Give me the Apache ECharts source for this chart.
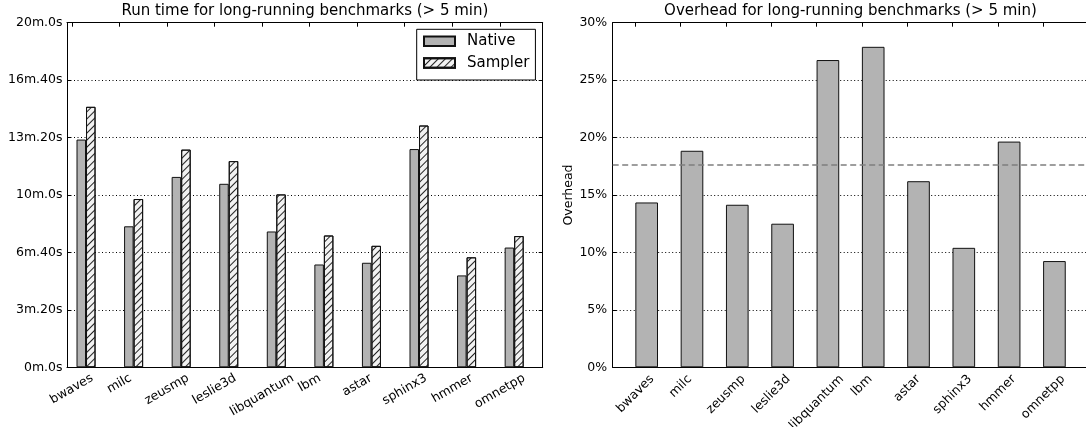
<!DOCTYPE html>
<html><head><meta charset="utf-8">
<script src="https://cdn.jsdelivr.net/npm/echarts@6/dist/echarts.min.js"></script>
<style>html,body{margin:0;padding:0;background:#fff}#c{width:1086px;height:427px}</style>
</head><body><div id="c"></div>
<script>
// ---- data ----
const benchmarks = ['bwaves','milc','zeusmp','leslie3d','libquantum','lbm','astar','sphinx3','hmmer','omnetpp'];
const nativeSeconds  = [793, 491, 663, 639, 473, 358, 364, 760, 320, 417];
const samplerSeconds = [907, 586, 758, 718, 602, 459, 423, 842, 383, 457];
const overheadPct    = [14.35, 18.85, 14.15, 12.5, 26.75, 27.9, 16.2, 10.4, 19.65, 9.25];
const meanOverheadPct = 17.6;
const runTimeTickSeconds = [0, 200, 400, 600, 800, 1000, 1200];
const overheadTicks = [0, 5, 10, 15, 20, 25, 30];

// ---- style ----
const FONT = '"DejaVu Sans", sans-serif';
const FS = 12.5;
const idx = benchmarks.map((_, i) => i);

const ctx = document.createElement('canvas').getContext('2d');
function textW(t, fs) { ctx.font = fs + 'px "DejaVu Sans"'; return ctx.measureText(t).width; }

// emulate rotated labels centred on the tick with a fixed bounding-box top
function richFor(deg, fs) {
  const th = deg * Math.PI / 180, H = fs * 1.1, rich = {};
  benchmarks.forEach((b, i) => {
    const L = textW(b, fs);
    const h = L * Math.sin(th) + H * Math.cos(th);
    const dy = h / 2;
    rich['r' + i] = { fontSize: fs, fontFamily: FONT, color: '#000',
      padding: [2 * dy * Math.cos(th), 2 * dy * Math.sin(th), 0, 0] };
  });
  return rich;
}
function fmtTime(v) { return Math.floor(v / 60) + 'm.' + (v % 60) + 's'; }

const gridL = { left: 67, top: 22.7, width: 475.7, height: 344.6, outerBoundsMode: 'none', containLabel: false };
const gridR = { left: 612.7, top: 22.7, right: 0, height: 344.6, outerBoundsMode: 'none', containLabel: false };
const unitL = 475.7 / 10, unitR = 475.7 / 10.5;
const xMaxR = -0.5 + (1086 - 612.7) / unitR;

const axisLineBlack = { show: true, onZero: false, lineStyle: { color: '#000', width: 1 } };
const gridLine = { show: true, lineStyle: { color: '#000', type: [1, 2.5], width: 1 } };

function xBottom(gi, min, max, deg, margin) {
  return { type: 'value', gridIndex: gi, position: 'bottom', min, max,
    axisLine: axisLineBlack, axisTick: { show: false }, splitLine: { show: false },
    axisLabel: { customValues: idx, rotate: deg, align: 'center', verticalAlign: 'middle', margin,
      formatter: v => '{r' + Math.round(v) + '|' + benchmarks[Math.round(v)] + '}',
      rich: richFor(deg, FS), fontSize: FS, fontFamily: FONT, color: '#000' } };
}
function xTop(gi, min, max) {
  return { type: 'value', gridIndex: gi, position: 'top', min, max,
    axisLine: axisLineBlack, axisTick: { show: true, inside: true, length: 4, customValues: idx, lineStyle: { color: '#000' } },
    axisLabel: { show: false, customValues: idx }, splitLine: { show: false } };
}

const option = {
  animation: false,
  backgroundColor: '#fff',
  textStyle: { fontFamily: FONT },
  title: [
    { text: 'Run time for long-running benchmarks (> 5 min)', left: 304.9, top: 4, textAlign: 'center', padding: 0,
      textStyle: { fontSize: 15, fontWeight: 'normal', color: '#000', fontFamily: FONT } },
    { text: 'Overhead for long-running benchmarks (> 5 min)', left: 850.5, top: 4, textAlign: 'center', padding: 0,
      textStyle: { fontSize: 15, fontWeight: 'normal', color: '#000', fontFamily: FONT } }
  ],
  legend: {
    data: ['Native', 'Sampler'], orient: 'vertical', left: 416.7, top: 29.3,
    padding: [4.5, 6, 9.5, 6.3], itemGap: 6.7, itemWidth: 31, itemHeight: 9.5, icon: 'rect',
    backgroundColor: '#fff', borderColor: '#000', borderWidth: 1, borderRadius: 0,
    textStyle: { fontSize: 15, color: '#000', fontFamily: FONT, padding: [0, 0, 0, 7] }
  },
  grid: [gridL, gridR],
  xAxis: [
    xBottom(0, -0.1, 9.9, 30, 4),
    xTop(0, -0.1, 9.9),
    xBottom(1, -0.5, xMaxR, 45, 5),
    xTop(1, -0.5, xMaxR)
  ],
  yAxis: [
    { type: 'value', gridIndex: 0, min: 0, max: 1200, interval: 200, position: 'left',
      axisLine: axisLineBlack, axisTick: { show: true, inside: true, length: 4, lineStyle: { color: '#000' } },
      axisLabel: { formatter: fmtTime, fontSize: FS, fontFamily: FONT, color: '#000', margin: 4.5 },
      splitLine: gridLine },
    { type: 'value', gridIndex: 0, min: 0, max: 1200, interval: 200, position: 'right',
      axisLine: axisLineBlack, axisTick: { show: true, inside: true, length: 4, lineStyle: { color: '#000' } },
      axisLabel: { show: false }, splitLine: { show: false } },
    { type: 'value', gridIndex: 1, min: 0, max: 30, interval: 5, position: 'left',
      name: 'Overhead', nameLocation: 'middle', nameGap: 26,
      nameTextStyle: { fontSize: FS, fontFamily: FONT, color: '#000' },
      axisLine: axisLineBlack, axisTick: { show: true, inside: true, length: 4, lineStyle: { color: '#000' } },
      axisLabel: { formatter: v => v + '%', fontSize: FS, fontFamily: FONT, color: '#000', margin: 5.5 },
      splitLine: gridLine }
  ],
  series: [
    { name: 'Native', type: 'bar', xAxisIndex: 0, yAxisIndex: 0, barWidth: 0.2 * unitL, barGap: '-100%',
      data: idx.map(i => [i + 0.2, nativeSeconds[i]]),
      itemStyle: { color: '#b3b3b3', borderColor: '#111', borderWidth: 1 } },
    { name: 'Sampler', type: 'bar', xAxisIndex: 0, yAxisIndex: 0, barWidth: 0.2 * unitL, barGap: '-100%',
      data: idx.map(i => [i + 0.4, samplerSeconds[i]]),
      itemStyle: { color: '#f2f2f2', borderColor: '#111', borderWidth: 1,
        decal: { symbol: 'rect', symbolSize: 1, dashArrayX: [1, 0], dashArrayY: [1, 3.2], rotation: -Math.PI / 4, color: '#222' } } },
    { name: 'Overhead', type: 'bar', xAxisIndex: 2, yAxisIndex: 2, barWidth: 0.5 * unitR,
      data: idx.map(i => [i + 0.25, overheadPct[i]]),
      itemStyle: { color: '#b3b3b3', borderColor: '#111', borderWidth: 1 },
      markLine: { silent: true, symbol: 'none', label: { show: false },
        lineStyle: { color: '#7f7f7f', width: 1.5, type: [6, 3.5] },
        data: [{ yAxis: meanOverheadPct }] } }
  ]
};
const chart = echarts.init(document.getElementById('c'), null, { renderer: 'canvas' });
chart.setOption(option);
</script></body></html>
